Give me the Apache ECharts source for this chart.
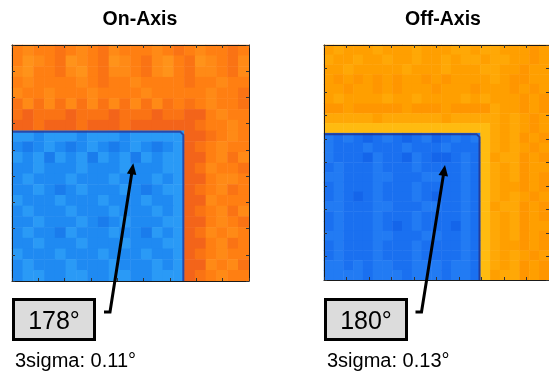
<!DOCTYPE html>
<html>
<head>
<meta charset="utf-8">
<script src="https://cdn.jsdelivr.net/npm/echarts@6/dist/echarts.min.js"></script>
<style>
html,body{margin:0;padding:0;background:#ffffff;}
#chart{width:549px;height:371px;}
</style>
</head>
<body>
<div id="chart"></div>
<script>
// ---- panel texts ----
const panelTitles = ['On-Axis', 'Off-Axis'];
const meanLabels = ['178°', '180°'];
const sigmaLabels = ['3sigma: 0.11°', '3sigma: 0.13°'];

// ---- On-Axis map: level codes per cell, top row first (22 x 22) ----
const onAxisRows = [
  '7877678768777876787767',
  '7987698769876897698768',
  '8977689768876897688768',
  '7877778767787777677877',
  '8778777877778777778776',
  '6868686868686867678776',
  '6566656665666566557877',
  '5565556555655555567787',
  '2212221222122222556787',
  '1012101210121012567877',
  '2120212021202122557868',
  '1121112111211122568776',
  '1211121112111212557887',
  '1121012111210122567867',
  '2111211121112112558777',
  '1211121112111212567868',
  '1121112101211122557876',
  '1211021112110212568787',
  '1121112111211122557867',
  '2111211121112112567877',
  '1211121112111212558786',
  '1221122112211222567877'
];

// ---- Off-Axis map: level codes per cell, top row first (23 x 24) ----
const offAxisRows = [
  '76777677767776676677787',
  '67767767767767667667787',
  '77677777677767776677877',
  '78787878778787777678877',
  '77877878777877787778787',
  '76777767767777676777878',
  '88788888788878888677878',
  '66666766666676666676787',
  '55555555555555555676787',
  '21210121012012125676878',
  '21112111211121115676787',
  '21110211021001215766878',
  '12111211121111215676877',
  '22111221112211215676878',
  '12111211121111215677878',
  '12101211121011215676787',
  '22111221112211215766878',
  '12111211121111215676878',
  '12111210121110215676877',
  '22111221112211215676878',
  '12111211121111215677878',
  '12111211121111215676787',
  '22121221122212215676878',
  '22221222122212215766878'
];

// ---- colour of each level ----
const onAxisLevelColors = {
  0: '#1a7cec', 1: '#1f8af2', 2: '#2a9af6',
  5: '#f3641a', 6: '#fa7314', 7: '#ff7f12', 8: '#ff8a16', 9: '#ff931a'
};
const offAxisLevelColors = {
  0: '#1465ea', 1: '#1a70f0', 2: '#227bf3',
  4: '#ffd21e', 5: '#ffbb10', 6: '#ffa806', 7: '#ff9f00', 8: '#ff9600'
};
const edgeColors = ['#283c9c', '#23358f'];

// ---- tick counts on the frames ----
const onAxisTickSteps = 9;
const offAxisTickSteps = 10;

function toCells(rows) {
  const out = [];
  rows.forEach((row, r) => {
    for (let c = 0; c < row.length; c++) out.push([c, r, Number(row[c])]);
  });
  return out;
}
function indexCats(n) { const a = []; for (let i = 0; i < n; i++) a.push(String(i)); return a; }
function pieces(map) { return Object.keys(map).map(k => ({ value: Number(k), color: map[k] })); }

const FONT = '"Liberation Sans", Arial, Helvetica, sans-serif';

function catAxis(gridIndex, n, isY) {
  return { type: 'category', gridIndex: gridIndex, data: indexCats(n), show: false,
           inverse: !!isY, boundaryGap: true };
}
function tickAxis(gridIndex, pos, max) {
  return {
    type: 'value', gridIndex: gridIndex, position: pos, min: 0, max: max, interval: 1, z: 6,
    axisLine: { show: true, onZero: false, lineStyle: { color: '#1a1a1a', width: 1 } },
    axisTick: { show: true, inside: true, length: 3, lineStyle: { color: '#333', width: 1 } },
    axisLabel: { show: false }, splitLine: { show: false }
  };
}

const grids = [
  { left: 12, top: 45, width: 237, height: 236, containLabel: false },
  { left: 324, top: 45, width: 235, height: 235, containLabel: false }
];

// callouts: box rect, arrow tip, arrow bend, foot
const callouts = [
  { box: [13.5, 299.5, 81, 40], tip: [133.3, 163.3], bend: [110, 312], foot: [104, 312], sigmaX: 15 },
  { box: [325.5, 299.5, 81, 40], tip: [445, 165], bend: [421.5, 312], foot: [415.5, 312], sigmaX: 327 }
];

const graphics = [];
callouts.forEach((c, i) => {
  const [bx, by, bw, bh] = c.box;
  graphics.push({ type: 'rect', shape: { x: bx, y: by, width: bw, height: bh },
    style: { fill: '#dcdcdc', stroke: '#000', lineWidth: 3 }, z: 10 });
  graphics.push({ type: 'text', x: bx + bw / 2, y: by + bh / 2 + 3, z: 11,
    style: { text: meanLabels[i], font: '25px ' + FONT, fill: '#000', align: 'center', verticalAlign: 'middle' } });
  const dx = c.tip[0] - c.bend[0], dy = c.tip[1] - c.bend[1];
  const L = Math.sqrt(dx * dx + dy * dy), ux = dx / L, uy = dy / L;
  const hl = 11, hw = 4.8;
  const base = [c.tip[0] - hl * ux, c.tip[1] - hl * uy];
  graphics.push({ type: 'polyline', z: 10, shape: { points: [c.foot, c.bend, [base[0] + ux, base[1] + uy]] },
    style: { stroke: '#000', lineWidth: 3, fill: null, lineJoin: 'miter' } });
  graphics.push({ type: 'polygon', z: 10, shape: { points: [c.tip, [base[0] - hw * uy, base[1] + hw * ux], [base[0] + hw * uy, base[1] - hw * ux]] },
    style: { fill: '#000' } });
  graphics.push({ type: 'text', x: c.sigmaX, y: 361, z: 11,
    style: { text: sigmaLabels[i], font: '20px ' + FONT, fill: '#000', align: 'left', verticalAlign: 'middle' } });
});
graphics.push({ type: 'text', x: 140, y: 20, z: 11,
  style: { text: panelTitles[0], font: 'bold 19.5px ' + FONT, fill: '#000', align: 'center', verticalAlign: 'middle' } });
graphics.push({ type: 'text', x: 443, y: 20, z: 11,
  style: { text: panelTitles[1], font: 'bold 19.5px ' + FONT, fill: '#000', align: 'center', verticalAlign: 'middle' } });

const option = {
  backgroundColor: '#ffffff',
  animation: false,
  grid: grids,
  xAxis: [
    catAxis(0, onAxisRows[0].length, false),
    tickAxis(0, 'bottom', onAxisTickSteps),
    tickAxis(0, 'top', onAxisTickSteps),
    catAxis(1, offAxisRows[0].length, false),
    tickAxis(1, 'bottom', offAxisTickSteps),
    tickAxis(1, 'top', offAxisTickSteps)
  ],
  yAxis: [
    catAxis(0, onAxisRows.length, true),
    tickAxis(0, 'left', onAxisTickSteps),
    tickAxis(0, 'right', onAxisTickSteps),
    catAxis(1, offAxisRows.length, true),
    tickAxis(1, 'left', offAxisTickSteps),
    tickAxis(1, 'right', offAxisTickSteps)
  ],
  visualMap: [
    { type: 'piecewise', show: false, seriesIndex: 0, dimension: 2, pieces: pieces(onAxisLevelColors) },
    { type: 'piecewise', show: false, seriesIndex: 1, dimension: 2, pieces: pieces(offAxisLevelColors) }
  ],
  series: [
    { type: 'heatmap', xAxisIndex: 0, yAxisIndex: 0, data: toCells(onAxisRows),
      itemStyle: { borderWidth: 0 }, emphasis: { disabled: true }, progressive: 0 },
    { type: 'heatmap', xAxisIndex: 3, yAxisIndex: 3, data: toCells(offAxisRows),
      itemStyle: { borderWidth: 0 }, emphasis: { disabled: true }, progressive: 0 }
  ],
  graphic: graphics
};

const chart = echarts.init(document.getElementById('chart'), null, { renderer: 'canvas', width: 549, height: 371 });
chart.setOption(option);

// dark rim of the blue block, located from the axes (blue = levels 0-2)
function blueEdge(rows, xi, yi, color) {
  let maxC = -1, minR = rows.length;
  rows.forEach((row, r) => { for (let c = 0; c < row.length; c++) if (Number(row[c]) <= 2) { if (c > maxC) maxC = c; if (r < minR) minR = r; } });
  const p0 = chart.convertToPixel({ xAxisIndex: xi, yAxisIndex: yi }, [0, minR]);
  const p1 = chart.convertToPixel({ xAxisIndex: xi, yAxisIndex: yi }, [1, minR + 1]);
  const pc = chart.convertToPixel({ xAxisIndex: xi, yAxisIndex: yi }, [maxC, rows.length - 1]);
  const cw = p1[0] - p0[0], ch = p1[1] - p0[1];
  const left = p0[0] - cw / 2, top = p0[1] - ch / 2 + 1;
  const right = pc[0] + cw / 2 - 1, bottom = pc[1] + ch / 2;
  return { type: 'polyline', z: 5, shape: { points: [[left, top], [right - 3, top], [right, top + 3], [right, bottom]] },
    style: { stroke: color, lineWidth: 2, fill: null, opacity: 0.85 } };
}
const extra = graphics.slice();
extra.push(blueEdge(onAxisRows, 0, 0, edgeColors[0]));
extra.push(blueEdge(offAxisRows, 3, 3, edgeColors[1]));
chart.setOption({ graphic: extra }, { replaceMerge: ['graphic'] });
</script>
</body>
</html>
